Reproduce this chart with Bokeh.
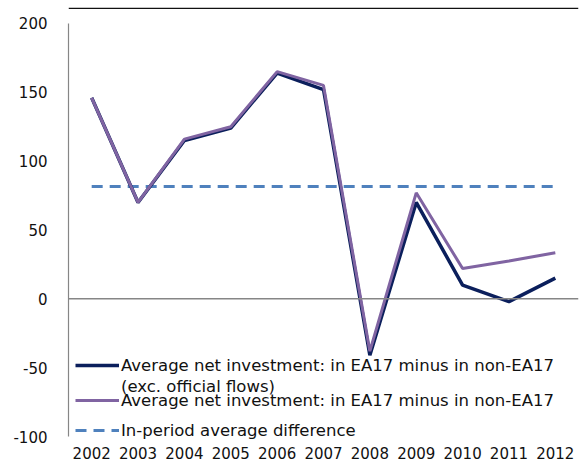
from bokeh.plotting import figure
from bokeh.models import ColumnDataSource, FixedTicker, Span, Legend, LegendItem
from bokeh.embed import file_html
from bokeh.resources import INLINE

years = ["2002", "2003", "2004", "2005", "2006", "2007", "2008", "2009", "2010", "2011", "2012"]
exc_official = [146, 70, 115, 124, 164, 152, -41, 70, 10, -2, 15]
net_investment = [146, 70, 116, 125, 165, 155, -38, 77, 22, 27.5, 33.5]
avg_difference = 81.6
y_ticks = [-100, -50, 0, 50, 100, 150, 200]

FONT = "DejaVu Sans"
NAVY = "#0B1F5C"
PURPLE = "#8064A2"
BLUE = "#4F81BD"
GREY = "#868686"

src = ColumnDataSource(dict(x=years, a=exc_official, b=net_investment,
                            avg=[avg_difference] * len(years)))

Y_TOP = 211.6  # frame top reaches the rule at the top of the panel
p = figure(x_range=years, y_range=(-102.9, Y_TOP), width=583, height=466,
           output_backend="svg", toolbar_location=None,
           min_border_left=68, min_border_right=5, min_border_top=7, min_border_bottom=26)
p.outline_line_color = None
p.xgrid.grid_line_color = None
p.ygrid.grid_line_color = None
p.x_range.range_padding = 0

p.add_layout(Span(location=0, dimension="width", line_color=GREY, line_width=1.5))
p.add_layout(Span(location=Y_TOP - 0.6, dimension="width", line_color="#111111", line_width=1.5))

r_avg = p.line("x", "avg", source=src, line_color=BLUE, line_width=3, line_dash="11 7")
r_a = p.line("x", "a", source=src, line_color=NAVY, line_width=3.5)
r_b = p.line("x", "b", source=src, line_color=PURPLE, line_width=3)
r_blank = p.line("x", "a", source=src, line_alpha=0)

p.yaxis.ticker = FixedTicker(ticks=y_ticks)
p.yaxis.major_label_overrides = {t: str(t) for t in y_ticks}
p.yaxis.bounds = (-100, 200)
p.yaxis.axis_line_color = GREY
p.yaxis.axis_line_width = 1.2
p.yaxis.major_tick_line_color = None
p.yaxis.minor_tick_line_color = None
p.yaxis.major_label_standoff = 15
p.yaxis.major_label_text_font = FONT
p.yaxis.major_label_text_font_size = "15px"
p.yaxis.major_label_text_color = "#111111"

p.xaxis.axis_line_color = None
p.xaxis.major_tick_line_color = None
p.xaxis.major_tick_out = 0
p.xaxis.minor_tick_line_color = None
p.xaxis.major_label_standoff = 6
p.xaxis.major_label_text_font = FONT
p.xaxis.major_label_text_font_size = "15px"
p.xaxis.major_label_text_color = "#111111"

def mk_legend(items, loc, spacing):
    return Legend(items=items, location=loc, spacing=spacing, padding=0, margin=0,
                  glyph_width=44, glyph_height=20, label_height=20, label_standoff=2,
                  label_text_font=FONT, label_text_font_size="16.5px", label_text_color="#111111",
                  border_line_alpha=0, background_fill_alpha=0)

lg1 = mk_legend([LegendItem(label="Average net investment: in EA17 minus in non-EA17", renderers=[r_a]),
                 LegendItem(label="(exc. official flows)", renderers=[r_blank])], (7, 44), 1)
lg2 = mk_legend([LegendItem(label="Average net investment: in EA17 minus in non-EA17", renderers=[r_b]),
                 LegendItem(label="In-period average difference", renderers=[r_avg])], (7, 0), 10)
p.add_layout(lg1, "center")
p.add_layout(lg2, "center")

open("out.html", "w").write(file_html(p, INLINE))
